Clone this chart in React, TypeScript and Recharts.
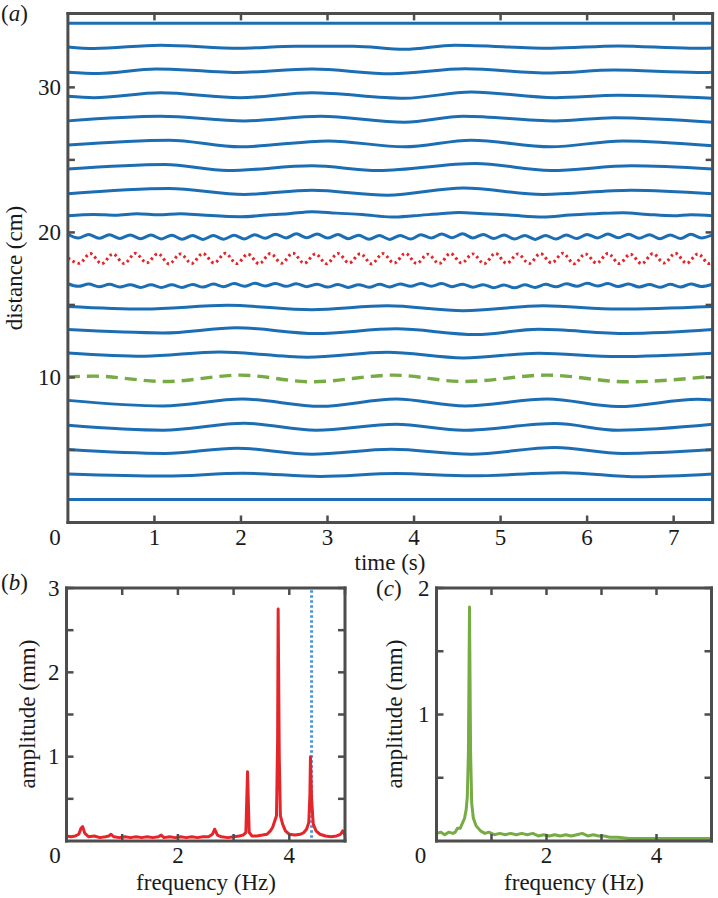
import { LineChart, Line, XAxis, YAxis } from "recharts"

const FRAME = "#4d4d4d"
const INK = "#1a1a1a"
const BLUE = "#1c6eb4"
const RED = "#e4262b"
const GREEN = "#77ab44"
const MARKER_BLUE = "#4a96d8"
const FONT = "'Liberation Serif', 'Times New Roman', serif"

// ---------- panel (a): displacement traces ----------
// baseline of each sensor (cm) and displacement keypoints (time s, offset mm)
const T_FLAT = [0, 7.45]
const D_FLAT = [0, 0]

const T_B = [0, 0.3, 1.07, 1.99, 2.63, 3.3, 3.89, 4.47, 5.58, 6.36, 7.19, 7.45]
const D_B = [0.2, -0.9, 1.4, -0.7, 0.7, 0.7, -1.4, 1.4, -0.7, 0.9, -0.7, -0.5]
const T_C = [0, 0.35, 1.02, 1.61, 1.95, 2.82, 3.74, 4.59, 5.58, 6.31, 7.28, 7.45]
const D_C = [-0.5, -1.4, 1.6, 0.2, -0.7, 1.6, -1.6, 1.8, -1.1, 0.9, -0.7, -0.5]
const T_D = [0, 0.3, 1.07, 1.99, 2.82, 3.89, 4.66, 5.63, 6.36, 7.45]
const D_D = [-0.5, -1.4, 2.0, -1.4, 2.0, -1.8, 2.5, -1.4, 0.2, -1.8]
const T_E = [0, 1.07, 2.04, 2.92, 3.89, 4.57, 5.63, 6.31, 7.45]
const D_E = [-1.1, 2.1, -1.1, 2.1, -2.1, 2.1, -1.1, 1.1, -2.1]
const T_F = [0, 1.17, 1.99, 3.01, 3.89, 4.66, 5.58, 6.41, 7.45]
const D_F = [-1.1, 2.3, -2.3, 1.8, -2.3, 2.3, -2.3, 1.8, -1.6]
const T_G = [0, 1.12, 1.85, 2.82, 3.59, 4.71, 5.58, 6.51, 7.45]
const D_G = [-1.1, 2.1, -2.1, 1.1, -2.1, 2.7, -2.1, 1.1, -1.1]
const T_H = [0, 1.17, 2.04, 2.82, 3.69, 4.57, 5.49, 6.51, 7.45]
const D_H = [-1.4, 2.3, -1.8, 1.1, -2.3, 2.7, -1.8, 1.1, -1.4]
const T_I = [
  0, 0.3, 0.55, 0.8, 1.05, 1.3, 1.55, 1.99, 2.3, 2.55,
  2.82, 3.1, 3.4, 3.74, 4.0, 4.3, 4.52, 4.8, 5.1, 5.49,
  5.8, 6.1, 6.41, 6.7, 7.0, 7.2, 7.45,
]
const D_I = [
  -0.7, 0.2, -0.4, 0.7, 0, 0.7, -0.2, -1.4, -0.2, 0.7,
  2.1, 1.1, 0.2, -1.6, -0.7, 0.7, 1.6, 0.7, -0.2, -1.6,
  -0.2, 0.7, 1.4, 0.2, -0.7, 0, -0.7,
]
// fast ripple traces either side of the forced one
const T_RIPPLE = [
  0, 0.12, 0.24, 0.36, 0.48, 0.6, 0.72, 0.84, 0.96, 1.08,
  1.2, 1.32, 1.44, 1.56, 1.68, 1.8, 1.92, 2.04, 2.16, 2.28,
  2.4, 2.52, 2.64, 2.76, 2.88, 3.0, 3.12, 3.24, 3.36, 3.48,
  3.6, 3.72, 3.84, 3.96, 4.08, 4.2, 4.32, 4.44, 4.56, 4.68,
  4.8, 4.92, 5.04, 5.16, 5.28, 5.4, 5.52, 5.64, 5.76, 5.88,
  6.0, 6.12, 6.24, 6.36, 6.48, 6.6, 6.72, 6.84, 6.96, 7.08,
  7.2, 7.32, 7.45,
]
const D_J = [
  1.6, -1.0, 1.5, -1.2, 1.3, -1.3, 1.2, -1.5, 1.1, -1.6,
  1.0, -1.8, 0.8, -1.9, 0.7, -1.8, 0.9, -1.6, 1.3, -1.1,
  1.7, -0.9, 1.9, -0.8, 1.8, -1.0, 1.4, -1.4, 1.0, -1.8,
  0.7, -1.9, 0.8, -1.7, 1.3, -1.0, 1.8, -0.7, 1.9, -0.9,
  1.5, -1.3, 1.1, -1.7, 0.8, -1.9, 0.8, -1.7, 1.1, -1.3,
  1.5, -0.9, 1.8, -0.8, 1.7, -1.1, 1.3, -1.5, 1.1, -1.3,
  1.6, -0.9, 1.2,
]
const D_K = [
  1.2, -0.6, 1.0, -0.9, 0.8, -1.1, 0.6, -1.3, 0.5, -1.4,
  0.5, -1.3, 0.7, -1.1, 1.0, -0.8, 1.3, -0.5, 1.5, -0.4,
  1.4, -0.6, 1.2, -0.8, 0.9, -1.1, 0.7, -1.3, 0.6, -1.2,
  0.8, -1.0, 1.1, -0.6, 1.4, -0.5, 1.3, -0.8, 0.9, -1.2,
  0.6, -1.5, 0.4, -1.6, 0.5, -1.3, 0.8, -0.9, 1.2, -0.5,
  1.5, -0.4, 1.3, -0.7, 1.0, -1.0, 0.7, -1.2, 0.8, -1.0,
  1.0, -0.7, 0.9,
]
// forced trace (red dotted)
const T_FORCED = [
  0, 0.13, 0.26, 0.39, 0.52, 0.65, 0.78, 0.91, 1.04, 1.17,
  1.3, 1.43, 1.56, 1.69, 1.82, 1.95, 2.08, 2.21, 2.34, 2.47,
  2.6, 2.73, 2.86, 2.99, 3.12, 3.25, 3.38, 3.51, 3.64, 3.77,
  3.9, 4.03, 4.16, 4.29, 4.42, 4.55, 4.68, 4.81, 4.94, 5.07,
  5.2, 5.33, 5.46, 5.59, 5.72, 5.85, 5.98, 6.11, 6.24, 6.37,
  6.5, 6.63, 6.76, 6.89, 7.02, 7.15, 7.28, 7.41, 7.45,
]
const D_FORCED = [
  0.4, -3.3, 3.4, -3.6, 3.1, -3.5, 3.6, -3.0, 3.3, -3.7,
  3.2, -3.4, 3.5, -3.1, 3.6, -3.5, 3.0, -3.6, 3.4, -3.2,
  3.7, -3.3, 3.1, -3.6, 3.5, -3.0, 3.3, -3.7, 3.4, -3.2,
  3.6, -3.4, 3.0, -3.5, 3.5, -3.1, 3.2, -3.6, 3.6, -3.3,
  3.1, -3.5, 3.4, -3.0, 3.6, -3.6, 3.2, -3.2, 3.5, -3.4,
  3.0, -3.6, 3.4, -3.1, 3.6, -3.3, 3.2, -3.5, -2.6,
]
const T_L = [0, 0.88, 1.85, 2.82, 3.69, 4.57, 5.49, 6.36, 7.45]
const D_L = [0.7, -1.1, 1.4, -1.6, 1.1, -2.3, 1.1, -1.1, 0.7]
const T_M = [0, 1.1, 1.95, 2.87, 3.79, 4.71, 5.44, 6.46, 7.45]
const D_M = [0.9, -1.4, 2.1, -1.8, 1.4, -2.5, 1.1, -1.8, 0.9]
const T_N = [0, 0.88, 1.75, 2.77, 3.69, 4.57, 5.44, 6.36, 7.45]
const D_N = [1.1, -1.1, 1.8, -1.8, 1.6, -2.3, 0.9, -1.4, 0.9]
// free-surface trace (green dashed)
const T_FREE = [0, 0.3, 1.12, 1.99, 2.82, 3.76, 4.57, 5.54, 6.46, 7.45]
const D_FREE = [1.1, 1.6, -2.1, 2.3, -2.3, 2.3, -2.1, 2.3, -2.3, 1.6]
const T_O = [0, 1.1, 2.02, 2.92, 3.79, 4.59, 5.54, 6.36, 7.28, 7.45]
const D_O = [1.6, -2.3, 2.5, -2.5, 2.5, -2.3, 2.5, -2.7, 2.3, 1.8]
const T_P = [0, 1.1, 2.04, 2.87, 3.79, 4.57, 5.63, 6.36, 7.45]
const D_P = [1.1, -2.3, 2.5, -2.3, 1.8, -2.3, 2.3, -2.3, 1.8]
const T_Q = [0, 1.12, 1.95, 2.82, 3.74, 4.66, 5.63, 6.41, 7.45]
const D_Q = [0.9, -1.8, 1.8, -2.3, 1.1, -2.3, 2.3, -1.8, 0.9]
const T_R = [0, 1.12, 2.02, 2.92, 3.79, 4.66, 5.73, 6.6, 7.45]
const D_R = [0.5, -0.9, 1.1, -1.1, 0.9, -0.7, 1.4, -1.4, 0.5]

const TIME_TICKS = [0, 1, 2, 3, 4, 5, 6, 7]
const DIST_TICKS = [0, 5, 10, 15, 20, 25, 30]
const DIST_LABELS = [10, 20, 30]

// ---------- panel (b): spectrum of forced trace ----------
const B_FREQ = [
  0.0, 0.08, 0.16, 0.22, 0.26, 0.29, 0.33, 0.4, 0.5, 0.6,
  0.7, 0.76, 0.8, 0.85, 0.95, 1.05, 1.15, 1.25, 1.35, 1.45,
  1.55, 1.65, 1.7, 1.75, 1.85, 1.95, 2.05, 2.15, 2.25, 2.35,
  2.45, 2.55, 2.62, 2.66, 2.71, 2.78, 2.9, 3.0, 3.1, 3.17,
  3.22, 3.25, 3.28, 3.33, 3.42, 3.52, 3.6, 3.66, 3.7, 3.74,
  3.77, 3.79, 3.8, 3.82, 3.84, 3.88, 3.93, 4.0, 4.1, 4.2,
  4.26, 4.31, 4.35, 4.37, 4.38, 4.4, 4.43, 4.48, 4.55, 4.65,
  4.75, 4.85, 4.92, 4.96, 5.0,
]
const B_AMP = [
  0.06, 0.05, 0.06, 0.08, 0.15, 0.17, 0.09, 0.05, 0.06, 0.04,
  0.05, 0.06, 0.08, 0.05, 0.04, 0.05, 0.04, 0.05, 0.04, 0.05,
  0.04, 0.05, 0.07, 0.04, 0.05, 0.04, 0.05, 0.04, 0.05, 0.04,
  0.05, 0.05, 0.08, 0.14, 0.07, 0.05, 0.04, 0.05, 0.06, 0.07,
  0.1, 0.82, 0.1, 0.06, 0.06, 0.07, 0.08, 0.12, 0.16, 0.24,
  0.3, 1.2, 2.75, 1.0, 0.3, 0.2, 0.12, 0.08, 0.07, 0.08,
  0.1, 0.14, 0.22, 0.55, 1.0, 0.5, 0.2, 0.12, 0.08, 0.06,
  0.05, 0.06, 0.08, 0.12, 0.07,
]
const MARK_FREQ = [4.4, 4.4]
const MARK_AMP = [0.04, 3]

// ---------- panel (c): spectrum of free-surface trace ----------
const C_FREQ = [
  0.0, 0.08, 0.15, 0.22, 0.3, 0.34, 0.38, 0.43, 0.47, 0.51,
  0.54, 0.56, 0.58, 0.6, 0.62, 0.64, 0.67, 0.72, 0.8, 0.88,
  0.95, 1.05, 1.15, 1.25, 1.35, 1.45, 1.55, 1.65, 1.75, 1.85,
  1.95, 2.05, 2.15, 2.25, 2.35, 2.45, 2.55, 2.65, 2.75, 2.85,
  2.95, 3.05, 3.15, 3.3, 3.5, 3.8, 4.1, 4.4, 4.7, 5.0,
]
const C_AMP = [
  0.06, 0.07, 0.05, 0.07, 0.06, 0.07, 0.1, 0.1, 0.14, 0.18,
  0.25, 0.35, 0.7, 1.85, 0.7, 0.3, 0.18, 0.12, 0.08, 0.06,
  0.07, 0.05, 0.06, 0.05, 0.06, 0.05, 0.06, 0.05, 0.06, 0.04,
  0.05, 0.04, 0.05, 0.04, 0.05, 0.04, 0.05, 0.06, 0.04, 0.05,
  0.04, 0.04, 0.03, 0.03, 0.02, 0.02, 0.02, 0.02, 0.02, 0.02,
]

const FREQ_TICKS = [0, 1, 2, 3, 4, 5]
const FREQ_LABELS = [0, 2, 4]

type Trace = { base: number; t: number[]; d: number[]; kind: "plain" | "forced" | "free" }

const TRACES: Trace[] = [
  { base: 34.42, t: T_FLAT, d: D_FLAT, kind: "plain" },
  { base: 32.77, t: T_B, d: D_B, kind: "plain" },
  { base: 31.1, t: T_C, d: D_C, kind: "plain" },
  { base: 29.43, t: T_D, d: D_D, kind: "plain" },
  { base: 27.8, t: T_E, d: D_E, kind: "plain" },
  { base: 26.13, t: T_F, d: D_F, kind: "plain" },
  { base: 24.48, t: T_G, d: D_G, kind: "plain" },
  { base: 22.8, t: T_H, d: D_H, kind: "plain" },
  { base: 21.22, t: T_I, d: D_I, kind: "plain" },
  { base: 19.71, t: T_RIPPLE, d: D_J, kind: "plain" },
  { base: 18.2, t: T_FORCED, d: D_FORCED, kind: "forced" },
  { base: 16.34, t: T_RIPPLE, d: D_K, kind: "plain" },
  { base: 14.83, t: T_L, d: D_L, kind: "plain" },
  { base: 13.21, t: T_M, d: D_M, kind: "plain" },
  { base: 11.58, t: T_N, d: D_N, kind: "plain" },
  { base: 9.93, t: T_FREE, d: D_FREE, kind: "free" },
  { base: 8.26, t: T_O, d: D_O, kind: "plain" },
  { base: 6.59, t: T_P, d: D_P, kind: "plain" },
  { base: 4.94, t: T_Q, d: D_Q, kind: "plain" },
  { base: 3.29, t: T_R, d: D_R, kind: "plain" },
  { base: 1.59, t: T_FLAT, d: D_FLAT, kind: "plain" },
]

const toPoints = (xs: number[], ys: number[]) => xs.map((x, i) => ({ x, y: ys[i] }))

const AXIS_LINE = { stroke: FRAME, strokeWidth: 3, strokeLinecap: "square" as const }
const LABEL_STYLE = { fontFamily: FONT, fontSize: 23, fill: INK }
const TICK_LEN = 7

// ticks point inwards (matlab box style); only some carry a number
function makeTick(side: "bottom" | "top" | "left" | "right", ticks: number[], labels: number[], zeroDx = 0) {
  const lo = ticks[0]
  return (props: any) => {
    const { x, y, payload } = props
    const v = payload.value
    const inner = v !== lo
    let mark = null
    let label = null
    if (side === "bottom" || side === "top") {
      const dir = side === "bottom" ? -1 : 1
      if (inner) mark = <line x1={x} y1={y} x2={x} y2={y + dir * TICK_LEN} stroke={FRAME} strokeWidth={2.5} />
      if (side === "bottom" && labels.includes(v))
        label = (
          <text x={v === 0 ? x + zeroDx : x} y={y + 22} textAnchor="middle" {...LABEL_STYLE}>
            {v}
          </text>
        )
    } else {
      const dir = side === "left" ? 1 : -1
      if (inner) mark = <line x1={x} y1={y} x2={x + dir * TICK_LEN} y2={y} stroke={FRAME} strokeWidth={2.5} />
      if (side === "left" && labels.includes(v))
        label = (
          <text x={x - 7} y={y + 7.5} textAnchor="end" {...LABEL_STYLE}>
            {v}
          </text>
        )
    }
    return (
      <g>
        {mark}
        {label}
      </g>
    )
  }
}

// bottom/left axes carry labels, top/right axes (1px wide) mirror the ticks to close the box
function Frame(props: {
  xDomain: [number, number]
  yDomain: [number, number]
  xTicks: number[]
  yTicks: number[]
  xLabels: number[]
  yLabels: number[]
  xHeight: number
  yWidth: number
  zeroDx: number
}) {
  const { xDomain, yDomain, xTicks, yTicks, xLabels, yLabels, xHeight, yWidth, zeroDx } = props
  const common = { type: "number" as const, interval: 0 as const, tickSize: 0, tickMargin: 0, tickLine: false, axisLine: AXIS_LINE, allowDataOverflow: true }
  return [
    <XAxis key="xb" xAxisId="b" dataKey="x" domain={xDomain} ticks={xTicks} height={xHeight} tick={makeTick("bottom", xTicks, xLabels, zeroDx)} {...common} />,
    <XAxis key="xt" xAxisId="t" orientation="top" dataKey="x" domain={xDomain} ticks={xTicks} height={1} tick={makeTick("top", xTicks, [])} {...common} />,
    <YAxis key="yl" yAxisId="l" domain={yDomain} ticks={yTicks} width={yWidth} tick={makeTick("left", yTicks, yLabels)} {...common} />,
    <YAxis key="yr" yAxisId="r" orientation="right" domain={yDomain} ticks={yTicks} width={1} tick={makeTick("right", yTicks, [])} {...common} />,
  ]
}

export default function App() {
  return (
    <div style={{ position: "absolute", left: 0, top: 0, width: 718, height: 898, background: "#fff" }}>
      <div style={{ position: "absolute", left: 0, top: 0 }}>
        <LineChart width={718} height={560} margin={{ top: 12.4, right: 4.4, bottom: 0, left: 0 }}>
          {Frame({
            xDomain: [0, 7.45],
            yDomain: [0, 35.1],
            xTicks: TIME_TICKS,
            yTicks: DIST_TICKS,
            xLabels: TIME_TICKS,
            yLabels: DIST_LABELS,
            xHeight: 37.5,
            yWidth: 67.9,
            zeroDx: -13,
          })}
          {TRACES.map((tr, i) => (
            <Line
              key={i}
              xAxisId="b"
              yAxisId="l"
              data={tr.t.map((t, k) => ({ x: t, y: tr.base + tr.d[k] / 10 }))}
              dataKey="y"
              type="monotone"
              stroke={tr.kind === "forced" ? RED : tr.kind === "free" ? GREEN : BLUE}
              strokeWidth={tr.kind === "free" ? 3.4 : 3}
              strokeDasharray={tr.kind === "forced" ? "2.5 3" : tr.kind === "free" ? "12 7" : undefined}
              dot={false}
              activeDot={false}
              isAnimationActive={false}
            />
          ))}
        </LineChart>
      </div>

      <div style={{ position: "absolute", left: 0, top: 560 }}>
        <LineChart width={360} height={338} margin={{ top: 27, right: 14, bottom: 0, left: 0 }}>
          {Frame({
            xDomain: [0, 5],
            yDomain: [0, 3],
            xTicks: FREQ_TICKS,
            yTicks: [0, 0.5, 1, 1.5, 2, 2.5, 3],
            xLabels: FREQ_LABELS,
            yLabels: [1, 2, 3],
            xHeight: 57,
            yWidth: 66.5,
            zeroDx: -11.5,
          })}
          <Line xAxisId="b" yAxisId="l" data={toPoints(MARK_FREQ, MARK_AMP)} dataKey="y" type="linear" stroke={MARKER_BLUE} strokeWidth={3} strokeDasharray="2.5 2.5" dot={false} activeDot={false} isAnimationActive={false} />
          <Line xAxisId="b" yAxisId="l" data={toPoints(B_FREQ, B_AMP)} dataKey="y" type="linear" stroke={RED} strokeWidth={3} strokeLinejoin="round" dot={false} activeDot={false} isAnimationActive={false} />
        </LineChart>
      </div>

      <div style={{ position: "absolute", left: 360, top: 560 }}>
        <LineChart width={358} height={338} margin={{ top: 27, right: 5.5, bottom: 0, left: 0 }}>
          {Frame({
            xDomain: [0, 5],
            yDomain: [0, 2],
            xTicks: FREQ_TICKS,
            yTicks: [0, 0.5, 1, 1.5, 2],
            xLabels: FREQ_LABELS,
            yLabels: [1, 2],
            xHeight: 57,
            yWidth: 76.5,
            zeroDx: -16,
          })}
          <Line xAxisId="b" yAxisId="l" data={toPoints(C_FREQ, C_AMP)} dataKey="y" type="linear" stroke={GREEN} strokeWidth={3} strokeLinejoin="round" dot={false} activeDot={false} isAnimationActive={false} />
        </LineChart>
      </div>

      <svg width={718} height={898} style={{ position: "absolute", left: 0, top: 0, pointerEvents: "none" }}>
        <g {...LABEL_STYLE}>
          <text x={1} y={21}>
            (<tspan fontStyle="italic">a</tspan>)
          </text>
          <text transform="translate(22 268) rotate(-90)" textAnchor="middle">
            distance (cm)
          </text>
          <text x={390} y={570} textAnchor="middle">
            time (s)
          </text>
          <text x={1} y={590}>
            (<tspan fontStyle="italic">b</tspan>)
          </text>
          <text transform="translate(35 714) rotate(-90)" textAnchor="middle">
            amplitude (mm)
          </text>
          <text x={206} y={890} textAnchor="middle">
            frequency (Hz)
          </text>
          <text x={376} y={596}>
            (<tspan fontStyle="italic">c</tspan>)
          </text>
          <text transform="translate(402 714) rotate(-90)" textAnchor="middle">
            amplitude (mm)
          </text>
          <text x={574} y={890} textAnchor="middle">
            frequency (Hz)
          </text>
        </g>
      </svg>
    </div>
  )
}
